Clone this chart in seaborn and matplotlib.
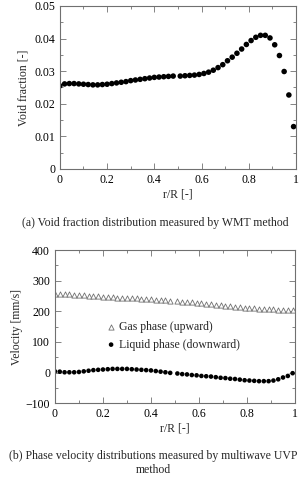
import numpy as np
import pandas as pd
import seaborn as sns
import matplotlib.pyplot as plt
from matplotlib.ticker import MultipleLocator

# radial positions r/R (50 measurement points)
r_pos = [0.00, 0.02, 0.04, 0.06, 0.08, 0.10, 0.12, 0.14, 0.16, 0.18,
         0.20, 0.22, 0.24, 0.26, 0.28, 0.30, 0.32, 0.34, 0.36, 0.38,
         0.40, 0.42, 0.44, 0.46, 0.48, 0.51, 0.53, 0.55, 0.57, 0.59,
         0.61, 0.63, 0.65, 0.67, 0.69, 0.71, 0.73, 0.75, 0.77, 0.79,
         0.81, 0.83, 0.85, 0.87, 0.89, 0.91, 0.93, 0.95, 0.97, 0.99]

void_frac = [0.0255, 0.0261, 0.0262, 0.0262, 0.0261, 0.0260, 0.0259, 0.0258, 0.0258, 0.0259,
             0.0260, 0.0262, 0.0264, 0.0266, 0.0268, 0.0271, 0.0273, 0.0275, 0.0277, 0.0279,
             0.0281, 0.0282, 0.0283, 0.0284, 0.0285, 0.0285, 0.0286, 0.0287, 0.0288, 0.0290,
             0.0293, 0.0297, 0.0303, 0.0311, 0.0320, 0.0332, 0.0343, 0.0355, 0.0368, 0.0382,
             0.0394, 0.0404, 0.0410, 0.0410, 0.0402, 0.0381, 0.0348, 0.0299, 0.0227, 0.0130]

gas_vel = [257, 256, 255, 255, 254, 253, 252, 251, 250, 249,
           248, 247, 246, 245, 245, 244, 243, 242, 241, 240,
           239, 238, 237, 236, 235, 233, 232, 231, 229, 228,
           226, 225, 223, 222, 220, 218, 217, 215, 214, 212,
           211, 210, 209, 208, 207, 206, 205, 205, 204, 204]

liq_vel = [4, 3, 1, 1, 1, 2, 4, 6, 8, 9,
           10, 11, 12, 12, 12, 12, 11, 10, 9, 8,
           7, 5, 3, 1, -1, -3, -5, -6, -8, -9,
           -11, -12, -13, -15, -17, -18, -20, -21, -23, -25,
           -26, -27, -28, -28, -28, -26, -22, -16, -11, -2]

sns.set_style("ticks")
plt.rcParams['font.family'] = ['Liberation Serif', 'DejaVu Serif']
plt.rcParams['axes.edgecolor'] = '#707070'
plt.rcParams['axes.linewidth'] = 0.8

df = pd.DataFrame({'r': r_pos, 'void': void_frac, 'gas': gas_vel, 'liq': liq_vel})

fig = plt.figure(figsize=(3.07, 4.8), dpi=100)
ax1 = fig.add_axes([0.195, 0.648, 0.769, 0.3395])
ax2 = fig.add_axes([0.179, 0.160, 0.782, 0.319])

fs = 8.5

def style_axes(ax):
    ax.tick_params(which='both', direction='in', top=True, right=True,
                   labelsize=fs, colors='#707070', labelcolor='black')
    ax.tick_params(which='major', length=4, width=0.6)
    ax.tick_params(which='minor', length=2.5, width=0.6)
    ax.xaxis.set_minor_locator(MultipleLocator(0.1))
    ax.set_xlim(0, 1)
    ax.set_xticks([0, 0.2, 0.4, 0.6, 0.8, 1.0])
    ax.set_xticklabels(['0', '0.2', '0.4', '0.6', '0.8', '1'])
    ax.set_xlabel('r/R [-]', fontsize=fs, labelpad=2)

# (a) void fraction
sns.scatterplot(data=df, x='r', y='void', ax=ax1, color='black', s=16,
                edgecolor='none', marker='o')
style_axes(ax1)
ax1.set_ylim(0, 0.05)
ax1.set_yticks([0, 0.01, 0.02, 0.03, 0.04, 0.05])
ax1.set_yticklabels(['0', '0.01', '0.02', '0.03', '0.04', '0.05'])
ax1.yaxis.set_minor_locator(MultipleLocator(0.005))
ax1.set_ylabel('Void fraction [-]', fontsize=fs, labelpad=3)

# (b) phase velocities
sns.scatterplot(data=df, x='r', y='gas', ax=ax2, marker='^', s=14,
                facecolor='white', edgecolor='#707070', linewidth=0.6,
                label='Gas phase (upward)')
sns.scatterplot(data=df, x='r', y='liq', ax=ax2, color='black', s=11,
                edgecolor='none', marker='o', label='Liquid phase (downward)')
style_axes(ax2)
ax2.set_ylim(-100, 400)
ax2.yaxis.set_major_locator(MultipleLocator(100))
ax2.yaxis.set_minor_locator(MultipleLocator(50))
ax2.set_ylabel('Velocity [mm/s]', fontsize=fs, labelpad=2)
ax2.legend(loc='upper left', bbox_to_anchor=(0.165, 0.565), frameon=False,
           fontsize=fs, handletextpad=-0.3, borderaxespad=0, labelspacing=0.45,
           markerscale=1.0)

fig.text(0.505, 1 - 223 / 480, '(a) Void fraction distribution measured by WMT method',
         ha='center', va='center', fontsize=8.5)
fig.text(0.5, 1 - 456 / 480, '(b) Phase velocity distributions measured by multiwave UVP',
         ha='center', va='center', fontsize=8.5)
fig.text(0.5, 1 - 470 / 480, 'method', ha='center', va='center', fontsize=8.5)

fig.savefig('out.png', dpi=100)
